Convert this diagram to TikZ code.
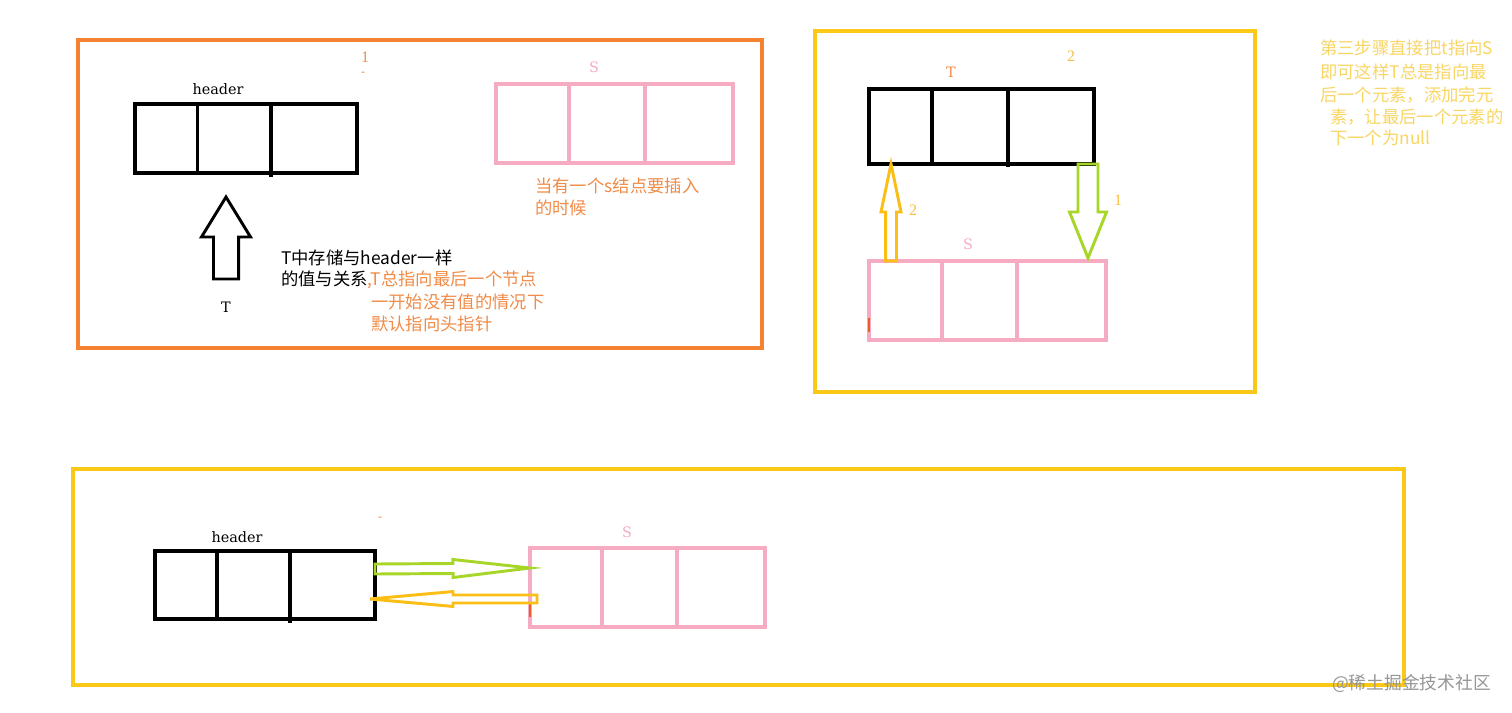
\documentclass[tikz,border=0pt]{standalone}
\usepackage{fontspec}
\setmainfont{DejaVu Serif}
\newfontfamily\cjk{Noto Sans CJK SC}
\newfontfamily\numfont{Liberation Serif}
\usetikzlibrary{calc}

\definecolor{frameorange}{RGB}{245,130,48}
\definecolor{frameyellow}{RGB}{250,200,22}
\definecolor{pinkbox}{RGB}{245,172,194}
\definecolor{limegreen}{RGB}{168,214,40}
\definecolor{arrowyellow}{RGB}{250,190,20}
\definecolor{textorange}{RGB}{240,140,72}
\definecolor{textyellow}{RGB}{249,214,100}
\definecolor{numyellow}{RGB}{246,192,70}
\definecolor{tickred}{RGB}{232,96,40}
\definecolor{markgray}{RGB}{150,150,150}

\tikzset{
  frameline/.style={line width=2.6pt},
  blkcell/.style={draw=black, line width=2.8pt, anchor=north west, inner sep=0pt, outer sep=0pt},
  pinkcell/.style={draw=pinkbox, line width=2.6pt, anchor=north west, inner sep=0pt, outer sep=0pt},
  lbl/.style={font=\fontsize{10.8pt}{12pt}\selectfont, inner sep=0pt},
  numlbl/.style={font=\numfont\fontsize{12pt}{13pt}\selectfont, inner sep=0pt},
  dashlbl/.style={font=\numfont\fontsize{9pt}{10pt}\selectfont, inner sep=0pt},
  cjktxt/.style={font=\cjk\fontsize{13pt}{16pt}\selectfont, inner sep=0pt, anchor=west},
  arrowline/.style={line width=2.2pt, line join=miter},
}

% #1 name, #2 style, #3 x1, #4 y1, #5 x2, #6 y2 (pixels)
\newcommand\cellnode[6]{%
  \node[#2, minimum width={(#5-#3)*0.75pt}, minimum height={(#6-#4)*0.75pt}] (#1) at (#3,#4) {};}

% #1 name, #2 style, #3 tail, #4 tip, #5 shaft half, #6 head half, #7 head length
\newcommand\blockarrow[7]{%
  \coordinate (#1-h) at ($(#4)!#7!(#3)$);
  \draw[#2] ($(#3)!#5!90:(#4)$) -- ($(#1-h)!#5!-90:(#3)$) -- ($(#1-h)!#6!-90:(#3)$)
    -- (#4) -- ($(#1-h)!#6!90:(#3)$) -- ($(#1-h)!#5!90:(#3)$) -- ($(#3)!#5!-90:(#4)$) -- cycle;}

\begin{document}
\begin{tikzpicture}[x=0.75pt,y=-0.75pt]
\useasboundingbox (0,0) rectangle (1512,713);
\fill[white] (0,0) rectangle (1512,713);

% ---------- frames ----------
\draw[frameline, draw=frameorange] (78,40) rectangle (762,348);
\draw[frameline, draw=frameyellow] (815,31) rectangle (1255,392);
\draw[frameline, draw=frameyellow] (73,469) rectangle (1404,685);

% ---------- panel 1 ----------
\cellnode{h1a}{blkcell}{135}{104}{197.5}{173}
\cellnode{h1b}{blkcell}{197.5}{104}{271}{173}
\cellnode{h1c}{blkcell}{271}{104}{357}{173}
\draw[black, line width=2.8pt] (h1c.south west) -- ++(0,4);
\node[lbl] (hdr1) at (218,89) {header};
\node[numlbl, text=textorange] (one1) at (365,57) {1};
\node[dashlbl, text=textorange] (dash1) at (363,74) {-};

\cellnode{s1a}{pinkcell}{496}{84}{569}{163}
\cellnode{s1b}{pinkcell}{569}{84}{645}{163}
\cellnode{s1c}{pinkcell}{645}{84}{733}{163}
\node[lbl, text=pinkbox] (slab1) at (594,67) {S};
\node[cjktxt, text=textorange] (ins1) at (535,186) {当有一个s结点要插入};
\node[cjktxt, text=textorange] (ins2) at (535,208) {的时候};

\coordinate (ta) at (226,279);
\coordinate (tb) at (226,197);
\blockarrow{ar1}{arrowline, draw=black}{ta}{tb}{9.4pt}{18.4pt}{30pt}
\node[lbl] (tlab1) at (226,307) {T};

\node[cjktxt] (tx1) at (281,258) {T中存储与header一样};
\node[cjktxt] (tx2) at (281,280) {的值与关系{\color{textorange},T总指向最后一个节点}};
\node[cjktxt, text=textorange] (tx3) at (371,302) {一开始没有值的情况下};
\node[cjktxt, text=textorange] (tx4) at (371,324) {默认指向头指针};

% ---------- panel 2 ----------
\cellnode{t2a}{blkcell}{869}{89}{932}{164}
\cellnode{t2b}{blkcell}{932}{89}{1008}{164}
\cellnode{t2c}{blkcell}{1008}{89}{1094}{164}
\draw[black, line width=2.8pt] (t2c.south west) -- ++(0,3);
\node[lbl, text=textorange] (tlab2) at (951,72) {T};
\node[numlbl, text=numyellow] (two2) at (1071,56) {2};

\cellnode{s2a}{pinkcell}{869}{261}{942}{340}
\cellnode{s2b}{pinkcell}{942}{261}{1017}{340}
\cellnode{s2c}{pinkcell}{1017}{261}{1106}{340}
\draw[tickred, line width=1.5pt] ($(s2a.south west)+(0,-8)$) -- ++(0,-14);
\node[lbl, text=pinkbox] (slab2) at (968,244) {S};

\coordinate (ya) at ($(s2a.north west)+(22,0)$);
\coordinate (yb) at ($(t2a.south west)+(22,0)$);
\blockarrow{ar2}{arrowline, draw=arrowyellow}{ya}{yb}{4.1pt}{7.5pt}{36pt}
\node[numlbl, text=numyellow] (two3) at (913,210) {2};

\coordinate (ga) at ($(t2c.south east)+(-6,0)$);
\coordinate (gb) at ($(s2c.north east)+(-18,-3)$);
\blockarrow{ar3}{arrowline, draw=limegreen}{ga}{gb}{7.5pt}{13.9pt}{34.5pt}
\node[numlbl, text=numyellow] (one2) at (1118,200) {1};

\node[cjktxt, text=textyellow] (r1) at (1320,48) {第三步骤直接把t指向S};
\node[cjktxt, text=textyellow] (r2) at (1320,72) {即可这样T总是指向最};
\node[cjktxt, text=textyellow] (r3) at (1320,95) {后一个元素，添加完元};
\node[cjktxt, text=textyellow] (r4) at (1330,117) {素，让最后一个元素的};
\node[cjktxt, text=textyellow] (r5) at (1330,138) {下一个为null};

% ---------- panel 3 ----------
\cellnode{h3a}{blkcell}{155}{551}{217}{619}
\cellnode{h3b}{blkcell}{217}{551}{290}{619}
\cellnode{h3c}{blkcell}{290}{551}{375}{619}
\draw[black, line width=2.8pt] (h3c.south west) -- ++(0,4);
\node[lbl] (hdr3) at (237,537) {header};
\node[dashlbl, text=textorange] (dash3) at (380,519) {-};

\cellnode{s3a}{pinkcell}{530}{548}{602}{627}
\cellnode{s3b}{pinkcell}{602}{548}{677}{627}
\cellnode{s3c}{pinkcell}{677}{548}{765}{627}
\draw[tickred, line width=1.5pt] ($(s3a.south west)+(0,-10)$) -- ++(0,-14);
\node[lbl, text=pinkbox] (slab3) at (627,532) {S};

\coordinate (ha) at ($(h3c.north east)+(0,18)$);
\coordinate (hb) at ($(s3a.north west)+(0,20)$);
\blockarrow{ar4}{arrowline, draw=limegreen}{ha}{hb}{3.75pt}{6.75pt}{57.75pt}

\coordinate (ka) at ($(s3a.north west)+(7,51)$);
\coordinate (kb) at ($(h3c.north east)+(-5,48)$);
\blockarrow{ar5}{arrowline, draw=arrowyellow}{ka}{kb}{3pt}{5.6pt}{62.25pt}

% ---------- watermark ----------
\node[font=\cjk\fontsize{13.3pt}{15pt}\selectfont, text=markgray, anchor=east, inner sep=0pt] (wm) at (1491,683) {@稀土掘金技术社区};
\end{tikzpicture}
\end{document}
